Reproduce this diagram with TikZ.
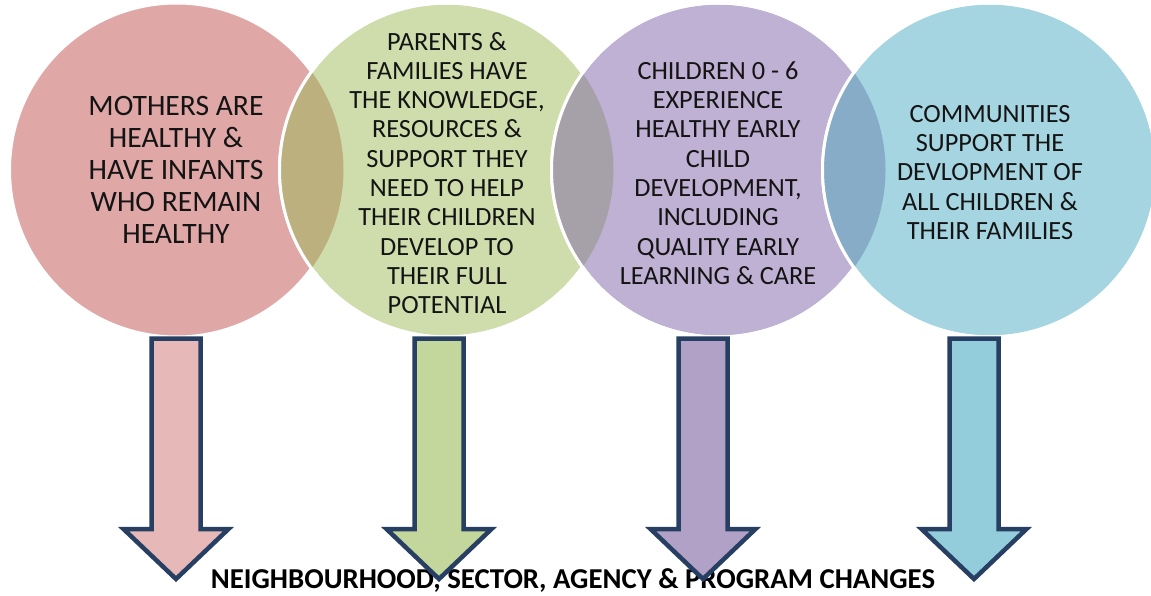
\documentclass[tikz,border=0pt]{standalone}
\usepackage{fontspec}
\setmainfont{Carlito}
\definecolor{cpink}{HTML}{E0A7A7}
\definecolor{cgreen}{HTML}{CFDDAD}
\definecolor{cpurple}{HTML}{BFB1D3}
\definecolor{cblue}{HTML}{A6D5E2}
\definecolor{lensA}{HTML}{BCB07F}
\definecolor{lensB}{HTML}{A6A0A9}
\definecolor{lensC}{HTML}{86ACC8}
\definecolor{apink}{HTML}{E6B8B8}
\definecolor{agreen}{HTML}{C3D69B}
\definecolor{apurple}{HTML}{B2A1C7}
\definecolor{ablue}{HTML}{93CDDC}
\definecolor{outl}{HTML}{263F62}
\newcommand{\blockarrow}[2]{%
  \draw[blk, fill=#2] ({#1-24.5},338.5) -- ({#1+24.5},338.5) -- ({#1+24.5},529) -- ({#1+52.5},529) -- (#1,579) -- ({#1-52.5},529) -- ({#1-24.5},529) -- cycle;}
\begin{document}
\begin{tikzpicture}[x=1pt,y=-1pt,
  bubble/.style={circle, minimum size=334pt, inner sep=0pt, outer sep=0pt, draw=white, line width=3pt},
  ring/.style={draw=white, line width=3pt},
  bigtxt/.style={align=center, text=black!92, inner sep=0pt, font=\fontsize{29.6}{32}\selectfont},
  smtxt/.style={align=center, text=black!92, inner sep=0pt, font=\fontsize{26.3}{29.3}\selectfont},
  blk/.style={draw=outl, line width=4.5pt, miter limit=10, line join=miter}]
\useasboundingbox (0,0) rectangle (1151,596);
% circles and lenses
\node[bubble, fill=cpink] (c1) at (176.5,170) {};
\node[bubble, fill=cgreen] (c2) at (446.5,170) {};
\begin{scope}
  \clip (c1.center) circle[radius=167pt];
  \fill[lensA] (c2.center) circle[radius=167pt];
\end{scope}
\draw[ring] (c2.center) circle[radius=167pt];
\node[bubble, fill=cpurple] (c3) at (718.5,170) {};
\begin{scope}
  \clip (c2.center) circle[radius=167pt];
  \fill[lensB] (c3.center) circle[radius=167pt];
\end{scope}
\draw[ring] (c3.center) circle[radius=167pt];
\node[bubble, fill=cblue] (c4) at (989.5,170) {};
\begin{scope}
  \clip (c3.center) circle[radius=167pt];
  \fill[lensC] (c4.center) circle[radius=167pt];
\end{scope}
\draw[ring] (c4.center) circle[radius=167pt];
% texts
\node[bigtxt] (t1) at (176,170) {MOTHERS ARE\\HEALTHY \&\\HAVE INFANTS\\WHO REMAIN\\HEALTHY};
\node[smtxt] (t2) at (447,173) {PARENTS \&\\FAMILIES HAVE\\THE KNOWLEDGE,\\RESOURCES \&\\SUPPORT THEY\\NEED TO HELP\\THEIR CHILDREN\\DEVELOP TO\\THEIR FULL\\POTENTIAL};
\node[smtxt] (t3) at (718,173) {CHILDREN 0 - 6\\EXPERIENCE\\HEALTHY EARLY\\CHILD\\DEVELOPMENT,\\INCLUDING\\QUALITY EARLY\\LEARNING \& CARE};
\node[smtxt] (t4) at (990,172.5) {COMMUNITIES\\SUPPORT THE\\DEVLOPMENT OF\\ALL CHILDREN \&\\THEIR FAMILIES};
% footer text
\node[anchor=base, inner sep=0pt, font=\fontsize{28.8}{31}\selectfont\bfseries, text=black] (foot) at (573,588) {NEIGHBOURHOOD, SECTOR, AGENCY \& PROGRAM CHANGES};
% block arrows
\blockarrow{176}{apink}
\blockarrow{439}{agreen}
\blockarrow{703}{apurple}
\blockarrow{974}{ablue}
\end{tikzpicture}
\end{document}
